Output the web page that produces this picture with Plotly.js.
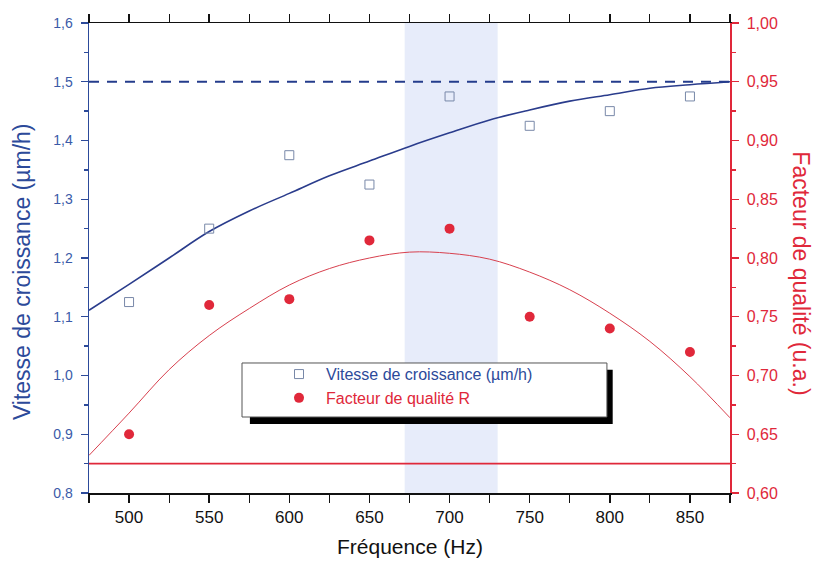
<!DOCTYPE html>
<html>
<head>
<meta charset="utf-8">
<script src="https://cdn.plot.ly/plotly-3.0.1.min.js"></script>
<style>body{margin:0;background:#fff;}#chart{width:816px;height:561px;}</style>
</head>
<body>
<div id="chart"></div>
<script>
// Measured data
const freq = [500, 550, 600, 650, 700, 750, 800, 850];
const vitesse = [1.125, 1.25, 1.375, 1.325, 1.475, 1.425, 1.45, 1.475];
const qualite = [0.65, 0.76, 0.765, 0.815, 0.825, 0.75, 0.74, 0.72];

// Fitted curves
const fitFreq = [475, 500, 525, 550, 575, 600, 625, 650, 675, 700, 725, 750, 775, 800, 825, 850, 875];
const fitVitesse = [1.111, 1.155, 1.200, 1.245, 1.280, 1.310, 1.340, 1.365, 1.390, 1.413, 1.435, 1.452, 1.467, 1.478, 1.489, 1.495, 1.500];
const fitQualite = [0.632, 0.668, 0.705, 0.734, 0.757, 0.777, 0.791, 0.800, 0.805, 0.804, 0.799, 0.788, 0.773, 0.753, 0.729, 0.699, 0.664];

// Reference levels and highlighted band
const xRange = [475, 875];
const vitesseMax = 1.5;
const qualiteMin = 0.625;
const band = [672, 730];

const blue = '#2c4a9a';
const red = '#e0283a';
const dark = '#111111';

const traces = [
  {x: fitFreq, y: fitVitesse, mode: 'lines', line: {color: '#2a3c8c', width: 1.6, shape: 'spline'}, showlegend: false, hoverinfo: 'skip'},
  {x: fitFreq, y: fitQualite, yaxis: 'y2', mode: 'lines', line: {color: '#d8404e', width: 1, shape: 'spline'}, showlegend: false, hoverinfo: 'skip'},
  {x: xRange, y: [vitesseMax, vitesseMax], mode: 'lines', line: {color: '#243c8c', width: 2, dash: '10px,8px'}, showlegend: false},
  {x: xRange, y: [qualiteMin, qualiteMin], yaxis: 'y2', mode: 'lines', line: {color: red, width: 1.6}, showlegend: false},
  {x: freq, y: vitesse, mode: 'markers', name: '<span style="color:#2c4a9a">Vitesse de croissance (µm/h)</span>',
   marker: {symbol: 'square-open', size: 9, color: '#7888a8', line: {width: 1}}},
  {x: freq, y: qualite, yaxis: 'y2', mode: 'markers', name: '<span style="color:#e0283a">Facteur de qualité R</span>',
   marker: {symbol: 'circle', size: 10, color: red}}
];

const font = 'Liberation Sans, Arial, sans-serif';

const layout = {
  width: 816, height: 561,
  margin: {l: 89, r: 86, t: 23, b: 68},
  paper_bgcolor: '#fff', plot_bgcolor: '#fff',
  separators: ', ',
  font: {family: font, size: 13, color: dark},
  showlegend: true,
  legend: {x: 0.2855, y: 0.289, xanchor: 'left', yanchor: 'top', bgcolor: 'rgba(0,0,0,0)', borderwidth: 0,
           font: {family: font, size: 16}, tracegroupgap: 0, itemwidth: 44},
  xaxis: {range: xRange, tick0: 500, dtick: 50, mirror: 'allticks',
          ticks: 'outside', ticklen: 8, tickwidth: 1.5, tickcolor: dark,
          minor: {dtick: 25, ticks: 'outside', ticklen: 5, tickwidth: 1.2, tickcolor: dark},
          showline: true, linecolor: dark, linewidth: 1.5, showgrid: false, zeroline: false,
          tickfont: {size: 17, color: dark}},
  yaxis: {range: [0.8, 1.6], dtick: 0.1, tick0: 0.8, tickformat: '.1f',
          ticks: 'outside', ticklen: 7, tickwidth: 1.3, tickcolor: blue, ticklabelstandoff: 5,
          minor: {dtick: 0.05, ticks: 'outside', ticklen: 4, tickcolor: blue},
          showline: true, linecolor: blue, linewidth: 1.5, showgrid: false, zeroline: false,
          tickfont: {size: 14, color: '#3a5aa8'}},
  yaxis2: {range: [0.6, 1.0], dtick: 0.05, tick0: 0.6, tickformat: '.2f', overlaying: 'y', side: 'right',
           ticks: 'outside', ticklen: 7, tickwidth: 1.3, tickcolor: red, ticklabelstandoff: 5,
           minor: {dtick: 0.025, ticks: 'outside', ticklen: 4, tickcolor: red},
           showline: true, linecolor: red, linewidth: 1.5, showgrid: false, zeroline: false,
           tickfont: {size: 16, color: red}},
  shapes: [
    {type: 'rect', xref: 'x', yref: 'paper', x0: band[0], x1: band[1], y0: 0, y1: 1,
     fillcolor: 'rgba(212,220,246,0.55)', line: {width: 0}, layer: 'below'},
    {type: 'rect', xref: 'paper', yref: 'paper', x0: 0.251, x1: 0.817, y0: 0.147, y1: 0.262,
     fillcolor: '#000', line: {width: 0}, layer: 'above'},
    {type: 'rect', xref: 'paper', yref: 'paper', x0: 0.2387, x1: 0.808, y0: 0.1617, y1: 0.2766,
     fillcolor: '#fff', line: {color: '#555', width: 1}, layer: 'above'}
  ],
  annotations: [
    {text: 'Vitesse de croissance (µm/h)', xref: 'paper', yref: 'paper', x: -0.1045, y: 0.47,
     textangle: -90, showarrow: false, font: {size: 23, color: blue}, xanchor: 'center', yanchor: 'middle'},
    {text: 'Facteur de qualité (u.a.)', xref: 'paper', yref: 'paper', x: 1.111, y: 0.467,
     textangle: 90, showarrow: false, font: {size: 23, color: red}, xanchor: 'center', yanchor: 'middle'},
    {text: 'Fréquence (Hz)', xref: 'paper', yref: 'paper', x: 0.5, y: -0.113,
     showarrow: false, font: {size: 21, color: dark}, xanchor: 'center', yanchor: 'middle'}
  ]
};

Plotly.newPlot('chart', traces, layout, {displayModeBar: false, staticPlot: true});
</script>
</body>
</html>
